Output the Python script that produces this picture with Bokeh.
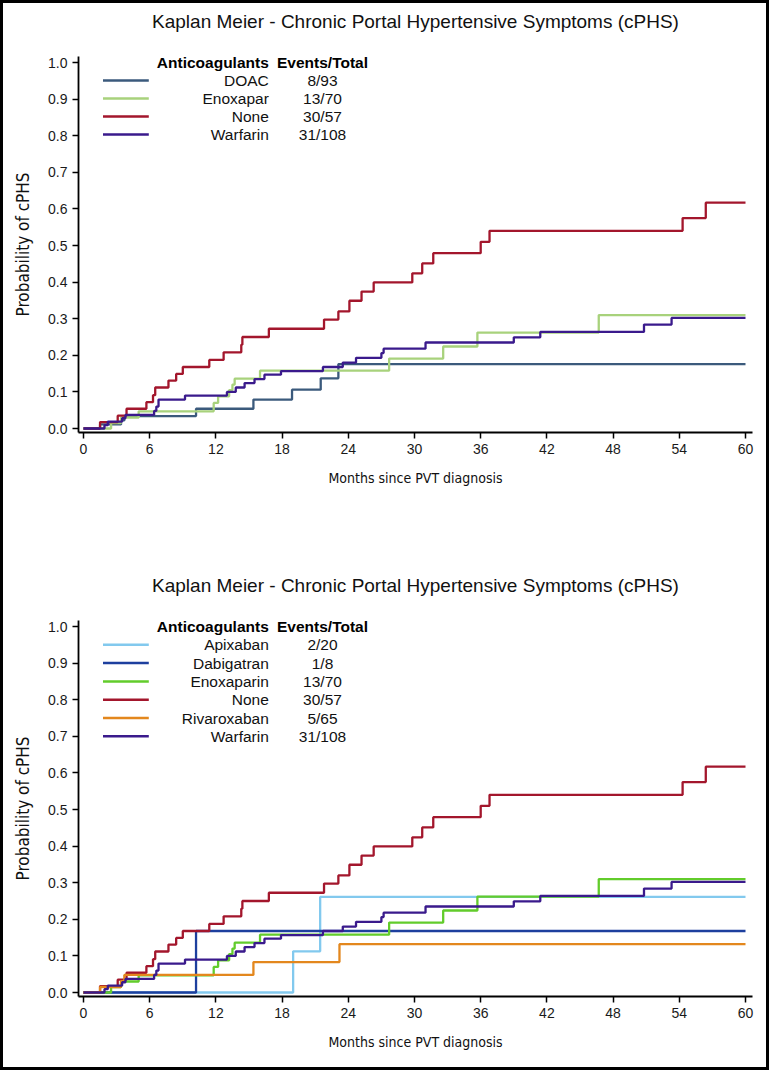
from bokeh.plotting import figure
from bokeh.layouts import column
from bokeh.models import FixedTicker, PrintfTickFormatter, Label, Title
from bokeh.embed import file_html
from bokeh.resources import INLINE

# ---------------- data ----------------
FOLLOW_UP_END = 60
X_TICKS = [0, 6, 12, 18, 24, 30, 36, 42, 48, 54, 60]
Y_TICKS = [0.0, 0.1, 0.2, 0.3, 0.4, 0.5, 0.6, 0.7, 0.8, 0.9, 1.0]

TITLE = "Kaplan Meier - Chronic Portal Hypertensive Symptoms (cPHS)"
X_LABEL = "Months since PVT diagnosis"
Y_LABEL = "Probability of cPHS"
LEGEND_HEAD = ["Anticoagulants", "Events/Total"]

doac_t = [0, 1.5, 3.4, 3.7, 10.2, 15.4, 18.9, 21.5, 23.1]
doac_p = [0, 0.011, 0.022, 0.034, 0.054, 0.079, 0.106, 0.137, 0.176]

enox_t = [0, 2.5, 3.4, 5.0, 11.8, 12.2, 13.2, 13.5, 13.7, 16.0, 27.7, 32.6, 35.7, 46.7]
enox_p = [0, 0.015, 0.030, 0.047, 0.070, 0.088, 0.105, 0.120, 0.136, 0.158, 0.191, 0.224, 0.262, 0.310]

none_t = [0, 1.5, 3.1, 3.9, 5.7, 6.3, 6.5, 7.7, 8.4, 9.0, 11.4, 12.7, 14.3, 14.4, 16.8,
          21.8, 23.1, 24.1, 25.2, 26.3, 29.8, 30.7, 31.7, 36.0, 36.8, 54.3, 56.4]
none_p = [0, 0.0175, 0.035, 0.054, 0.072, 0.091, 0.112, 0.131, 0.149, 0.168, 0.1875, 0.208, 0.229, 0.250, 0.2725,
          0.2975, 0.320, 0.349, 0.374, 0.399, 0.424, 0.451, 0.479, 0.510, 0.540, 0.575, 0.617]

warf_t = [0, 1.9, 2.2, 3.5, 3.8, 6.4, 6.6, 6.8, 9.2, 13.0, 13.8, 14.6, 15.5, 16.4, 17.9,
          21.7, 23.5, 24.7, 27.0, 27.2, 31.0, 39.0, 41.4, 50.8, 53.3]
warf_p = [0, 0.009, 0.019, 0.028, 0.037, 0.048, 0.060, 0.079, 0.090, 0.100, 0.112, 0.124, 0.135, 0.147, 0.157,
          0.168, 0.180, 0.193, 0.206, 0.218, 0.235, 0.249, 0.264, 0.284, 0.302]

apix_t = [0, 19.0, 21.45]
apix_p = [0, 0.1125, 0.261]

dabi_t = [0, 10.2]
dabi_p = [0, 0.168]

riva_t = [0, 1.5, 3.4, 3.7, 15.4, 23.2]
riva_p = [0, 0.015, 0.031, 0.048, 0.083, 0.132]

top_names = ["DOAC", "Enoxapar", "None", "Warfarin"]
top_counts = ["8/93", "13/70", "30/57", "31/108"]
top_colors = ["#3b5a7c", "#a8d27c", "#a3162c", "#3a1a8c"]
top_series = [(doac_t, doac_p), (enox_t, enox_p), (none_t, none_p), (warf_t, warf_p)]

bot_names = ["Apixaban", "Dabigatran", "Enoxaparin", "None", "Rivaroxaban", "Warfarin"]
bot_counts = ["2/20", "1/8", "13/70", "30/57", "5/65", "31/108"]
bot_colors = ["#82c9ee", "#1d3f9e", "#62cc2b", "#a3162c", "#e3871d", "#3a1a8c"]
bot_series = [(apix_t, apix_p), (dabi_t, dabi_p), (enox_t, enox_p), (none_t, none_p),
              (riva_t, riva_p), (warf_t, warf_p)]

# ---------------- layout (absolute page pixels) ----------------
PAGE_W, PAGE_H = 769, 1070
PAD = 3
ORG_X = PAD
FIG_W = PAGE_W - 2 * PAD
TOP_Y0, SPLIT_Y, BOT_Y1 = PAD, 540, PAGE_H - PAD
PX_PER_MONTH = (745 - 83) / 60.0
PX_PER_UNIT = 366.0
X0_ABS = 83
FRAME_L_ABS, FRAME_R_ABS = 78, 752

FONT = "Liberation Sans"
NARROW = "Liberation Sans Narrow, DejaVu Sans Condensed, Liberation Sans"


def make_panel(series, names, counts, colors, fig_y0, fig_y1, zero_abs, head_abs, row_step):
    h = fig_y1 - fig_y0
    frame_t = zero_abs - 372          # a little above 1.0
    frame_b = zero_abs + 4

    def dx(px):
        return (px - X0_ABS) / PX_PER_MONTH

    def dy(py):
        return (zero_abs - py) / PX_PER_UNIT

    p = figure(width=FIG_W, height=h, output_backend="svg", toolbar_location=None,
               x_range=(dx(FRAME_L_ABS), dx(FRAME_R_ABS)), y_range=(dy(frame_b), dy(frame_t)),
               min_border_left=FRAME_L_ABS - ORG_X,
               min_border_right=ORG_X + FIG_W - FRAME_R_ABS,
               min_border_top=frame_t - fig_y0,
               min_border_bottom=fig_y1 - frame_b)
    p.outline_line_color = None
    p.grid.visible = False
    p.background_fill_color = "white"
    p.border_fill_color = "white"

    p.title.text = TITLE
    p.title.align = "center"
    p.title.text_font = FONT
    p.title.text_font_size = "19px"
    p.title.text_font_style = "normal"
    p.title.text_color = "#111111"
    p.title.standoff = 0
    # blank spacer between the title and the plot area
    p.add_layout(Title(text=" ", text_font_size="2px", standoff=21), "above")

    for ax in (p.xaxis, p.yaxis):
        ax.axis_line_width = 1.8
        ax.axis_line_color = "black"
        ax.major_tick_line_width = 1.5
        ax.major_tick_line_color = "black"
        ax.major_tick_out = 6
        ax.major_tick_in = 0
        ax.minor_tick_line_color = None
        ax.major_label_text_font = FONT
        ax.major_label_text_font_size = "14px"
        ax.major_label_text_color = "#1a1a1a"
        ax.axis_label_text_font = NARROW
        ax.axis_label_text_font_style = "normal"
        ax.axis_label_text_color = "#111111"

    p.xaxis.ticker = FixedTicker(ticks=X_TICKS)
    p.yaxis.ticker = FixedTicker(ticks=Y_TICKS)
    p.yaxis.formatter = PrintfTickFormatter(format="%.1f")
    p.xaxis.major_label_standoff = 5
    p.yaxis.major_label_standoff = 5
    p.xaxis.axis_label = X_LABEL
    p.yaxis.axis_label = Y_LABEL
    p.xaxis.axis_label_text_font_size = "14px"
    p.yaxis.axis_label_text_font_size = "17px"
    p.xaxis.axis_label_standoff = 13
    p.yaxis.axis_label_standoff = 12

    for (t, pr), c in zip(series, colors):
        xs = list(t) + [FOLLOW_UP_END]
        ys = list(pr) + [pr[-1]]
        p.step(xs, ys, mode="after", line_color=c, line_width=2.3)

    # legend
    name_right = 268.3
    count_center = 322
    p.add_layout(Label(x=dx(name_right), y=dy(head_abs), text=LEGEND_HEAD[0], text_align="right",
                       text_baseline="middle", text_font=FONT, text_font_size="15.5px",
                       text_font_style="bold", text_color="black"))
    p.add_layout(Label(x=dx(count_center), y=dy(head_abs), text=LEGEND_HEAD[1], text_align="center",
                       text_baseline="middle", text_font=FONT, text_font_size="15.5px",
                       text_font_style="bold", text_color="black"))
    for i, (nm, ct, c) in enumerate(zip(names, counts, colors)):
        ry = head_abs + row_step * (i + 1)
        p.segment(x0=[dx(102.5)], y0=[dy(ry)], x1=[dx(148.3)], y1=[dy(ry)],
                  line_color=c, line_width=2.5)
        p.add_layout(Label(x=dx(name_right), y=dy(ry), text=nm, text_align="right",
                           text_baseline="middle", text_font=FONT, text_font_size="15.5px",
                           text_color="#111111"))
        p.add_layout(Label(x=dx(count_center), y=dy(ry), text=ct, text_align="center",
                           text_baseline="middle", text_font=FONT, text_font_size="15.5px",
                           text_color="#111111"))
    return p


p_top = make_panel(top_series, top_names, top_counts, top_colors,
                   TOP_Y0, SPLIT_Y, zero_abs=428, head_abs=62, row_step=18.0)
p_bot = make_panel(bot_series, bot_names, bot_counts, bot_colors,
                   SPLIT_Y, BOT_Y1, zero_abs=992, head_abs=626, row_step=18.3)

inner = column(p_top, p_bot, spacing=0, styles={"background-color": "white"})
layout = column(inner, styles={"background-color": "black", "padding": f"{PAD}px"})

open("out.html", "w").write(file_html(layout, INLINE))
